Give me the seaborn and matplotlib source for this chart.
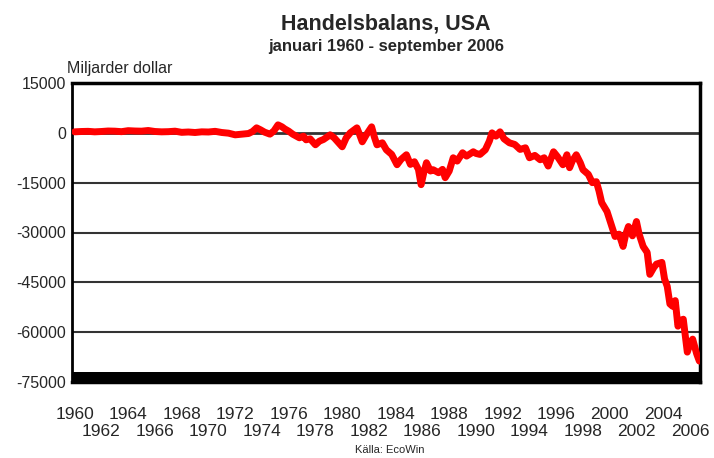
import numpy as np
import pandas as pd
import matplotlib
matplotlib.use("Agg")
import matplotlib.pyplot as plt
import seaborn as sns
from matplotlib.ticker import MultipleLocator, FixedLocator

# Handelsbalans USA, miljarder dollar (avläst ur originalbilden)
AR = [1960.0, 1960.5, 1961.0, 1961.5, 1962.0, 1962.5, 1963.0, 1963.5, 1964.0,
      1964.5, 1965.0, 1965.5, 1966.0, 1966.5, 1967.0, 1967.5, 1968.0, 1968.5,
      1969.0, 1969.5, 1970.0, 1970.5, 1971.0, 1971.5, 1972.0, 1972.5, 1973.0,
      1973.3, 1973.6, 1973.9, 1974.2, 1974.6, 1974.9, 1975.2, 1975.5, 1975.7,
      1976.0, 1976.3, 1976.8, 1977.1, 1977.3, 1977.6, 1978.0, 1978.3, 1978.6,
      1979.1, 1979.4, 1979.6, 1980.0, 1980.3, 1980.6, 1981.1, 1981.3, 1981.5,
      1981.8, 1982.2, 1982.4, 1982.6, 1983.0, 1983.3, 1983.7, 1984.1, 1984.4,
      1984.8, 1985.1, 1985.4, 1985.7, 1985.9, 1986.1, 1986.3, 1986.6, 1986.8,
      1987.2, 1987.5, 1987.7, 1988.0, 1988.3, 1988.6, 1989.0, 1989.3, 1989.8,
      1990.0, 1990.3, 1990.7, 1991.0, 1991.2, 1991.5, 1991.8, 1992.1, 1992.5,
      1992.9, 1993.3, 1993.7, 1994.0, 1994.4, 1994.8, 1995.1, 1995.4, 1995.8,
      1996.1, 1996.5, 1996.8, 1997.0, 1997.2, 1997.5, 1997.8, 1998.0, 1998.4,
      1998.7, 1999.0, 1999.2, 1999.4, 1999.8, 2000.1, 2000.4, 2000.7, 2001.0,
      2001.2, 2001.4, 2001.7, 2002.0, 2002.2, 2002.5, 2002.8, 2003.0, 2003.3,
      2003.5, 2003.9, 2004.1, 2004.3, 2004.5, 2004.7, 2004.9, 2005.1, 2005.3,
      2005.5, 2005.8, 2006.0, 2006.2, 2006.5, 2006.7]
SALDO = [300, 400, 450, 300, 400, 550, 500, 350, 650,
         550, 500, 700, 400, 300, 350, 500, 150, 250,
         100, 300, 250, 450, 100, -100, -600, -400, -200,
         400, 1500, 900, 200, -400, 600, 2400, 1800, 1200,
         500, -400, -1500, -1000, -2100, -1800, -3600, -2500, -2000,
         -600, -1500, -2400, -4200, -1500, 0, 1500, -500, -2700,
         -600, 1800, -1200, -3600, -3000, -5100, -6500, -9600, -8000,
         -6600, -9500, -8700, -11000, -15600, -12000, -9000, -11500, -11100,
         -12000, -11000, -13500, -11500, -7500, -8500, -6000, -7000, -5700,
         -6200, -6500, -5100, -2500, 0, -1000, 300, -1800, -3000,
         -3500, -5000, -4500, -7500, -6800, -8100, -7500, -10000, -5700,
         -7200, -9600, -6600, -10500, -8500, -6600, -9000, -11100, -12500,
         -15000, -14700, -17500, -21000, -23700, -27500, -31200, -30500, -34200,
         -30500, -28200, -31000, -26700, -30500, -34200, -36000, -42600, -40500,
         -39500, -39000, -44000, -46200, -51500, -52200, -50500, -58200, -56500,
         -56100, -66000, -63500, -62100, -66500, -68700]

Y_TICKS = [15000, 0, -15000, -30000, -45000, -60000, -75000]
X_ROW1 = list(range(1960, 2005, 4))
X_ROW2 = list(range(1962, 2007, 4))

df = pd.DataFrame({"ar": AR, "saldo": SALDO})

sns.set_style("white")
plt.rcParams["font.family"] = ["Liberation Sans", "DejaVu Sans"]

fig = plt.figure(figsize=(7.14, 4.58), dpi=100)
ax = fig.add_axes([72 / 714, 76 / 458, 628 / 714, 299 / 458])

sns.lineplot(data=df, x="ar", y="saldo", ax=ax, color="#ff0000", lw=5,
             solid_capstyle="round", solid_joinstyle="round", zorder=3)

# horisontella stödlinjer
for v in Y_TICKS[1:-1]:
    ax.axhline(v, color="#333333", lw=2.0 if v == 0 else 1.5, zorder=1)
# tjockt svart band i botten
ax.axhspan(-75000, -72000, color="black", zorder=4, lw=0)

ax.set_xlim(1959.8, 2006.75)
ax.set_ylim(-75000, 15000)
ax.set_yticks(Y_TICKS)
ax.set_yticklabels([str(v) for v in Y_TICKS], fontsize=11.5)
ax.yaxis.set_minor_locator(MultipleLocator(5000))
ax.tick_params(axis="y", which="major", direction="in", length=0, pad=4)
ax.tick_params(axis="y", which="minor", direction="in", length=6, width=1, color="black")

# årtal i två rader
ax.xaxis.set_major_locator(FixedLocator(X_ROW1))
ax.xaxis.set_minor_locator(FixedLocator(X_ROW2))
ax.set_xticklabels([str(y) for y in X_ROW1], fontsize=12.5)
ax.set_xticklabels([str(y) for y in X_ROW2], minor=True, fontsize=12.5)
ax.tick_params(axis="x", which="major", length=0, pad=18)
ax.tick_params(axis="x", which="minor", length=0, pad=30)

for side in ["top", "right", "left", "bottom"]:
    ax.spines[side].set_color("black")
    ax.spines[side].set_linewidth(2.5)
ax.spines["left"].set_linewidth(2)

ax.set_xlabel("")
ax.set_ylabel("")

fig.text(386 / 714, 1 - 24 / 458, "Handelsbalans, USA", ha="center", va="center",
         fontsize=15.5, fontweight="bold")
fig.text(386 / 714, 1 - 47 / 458, "januari 1960 - september 2006", ha="center", va="center",
         fontsize=12, fontweight="bold")
fig.text(67 / 714, 1 - 68 / 458, "Miljarder dollar", ha="left", va="center", fontsize=11.5)
fig.text(390 / 714, 1 - 450 / 458, "Källa: EcoWin", ha="center", va="center", fontsize=8)

fig.savefig("out.png", dpi=100)
